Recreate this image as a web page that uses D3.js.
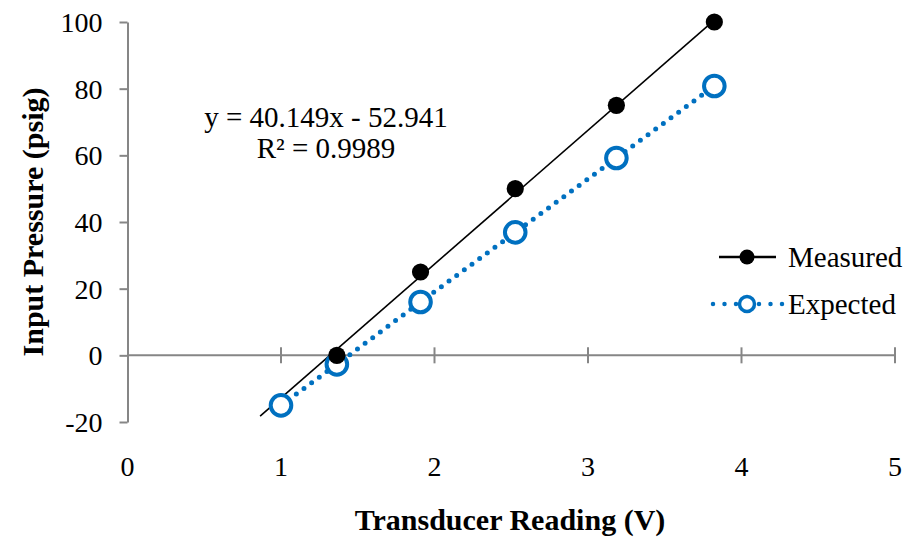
<!DOCTYPE html>
<html>
<head>
<meta charset="utf-8">
<script src="https://cdn.jsdelivr.net/npm/d3@7"></script>
<style>
  html, body { margin: 0; padding: 0; background: #fff; }
  svg { display: block; }
  svg text { font-family: "Times New Roman", "Liberation Serif", "DejaVu Serif", serif; fill: #000; }
</style>
</head>
<body>
<svg id="chart" width="911" height="539"></svg>
<script>
// Transducer calibration data
const measuredX = [1.364, 1.909, 2.526, 3.185, 3.823];
const measuredY = [0, 25, 50, 75, 100];
const expectedX = [1.0, 1.364, 1.909, 2.526, 3.185, 3.823];
const expectedY = [-15, -2.7, 16, 36.9, 59.2, 80.8];
const xTicks = [0, 1, 2, 3, 4, 5];
const yTicks = [-20, 0, 20, 40, 60, 80, 100];
const seriesNames = ["Measured", "Expected"];
// Linear trendline fitted to the measured series (with 0.5 V backward forecast)
const trendSlope = 40.149;
const trendIntercept = -52.941;
const trendRange = [0.864, 3.823];
const equationLines = ["y = 40.149x - 52.941", "R\u00B2 = 0.9989"];

const serif = "'Times New Roman', 'Liberation Serif', 'DejaVu Serif', serif";
const svg = d3.select("#chart");
const x = d3.scaleLinear().domain([0, 5]).range([127.5, 895]);
const y = d3.scaleLinear().domain([-20, 100]).range([422, 22]);
const axisColor = "#868686";
const blue = "#0070C0";

// Y axis (left), ticks outward
const yAxis = svg.append("g")
  .attr("transform", `translate(${x(0)},0)`)
  .call(d3.axisLeft(y).tickValues(yTicks).tickFormat(d => String(d))
    .tickSize(8).tickSizeOuter(0).tickPadding(17))
  .attr("font-family", serif).attr("font-size", 28);
yAxis.select(".domain").attr("stroke", axisColor).attr("stroke-width", 2);
yAxis.selectAll(".tick line").attr("stroke", axisColor).attr("stroke-width", 2);
yAxis.selectAll(".tick text").attr("fill", "#000").attr("dy", "0.34em");

// X axis line crossing at y = 0, with ticks crossing the line
const xAxis = svg.append("g").attr("transform", `translate(0,${y(0)})`);
xAxis.append("line")
  .attr("x1", x(0)).attr("x2", x(5))
  .attr("stroke", axisColor).attr("stroke-width", 2);
xAxis.selectAll("line.tick").data(xTicks.slice(1)).join("line")
  .attr("class", "tick")
  .attr("x1", d => x(d)).attr("x2", d => x(d))
  .attr("y1", -8).attr("y2", 8)
  .attr("stroke", axisColor).attr("stroke-width", 2);

// X tick labels at the bottom of the plot
svg.append("g").attr("font-family", serif).selectAll("text").data(xTicks).join("text")
  .attr("x", d => x(d)).attr("y", 476)
  .attr("text-anchor", "middle").attr("font-size", 28)
  .text(d => d);

// Axis titles
svg.append("text")
  .attr("x", 510).attr("y", 530)
  .attr("text-anchor", "middle").attr("font-size", 30).attr("font-weight", "bold")
  .text("Transducer Reading (V)");
svg.append("text")
  .attr("transform", "translate(43,222) rotate(-90)")
  .attr("text-anchor", "middle").attr("font-size", 30).attr("font-weight", "bold")
  .text("Input Pressure (psig)");

const line = d3.line().x(d => x(d[0])).y(d => y(d[1]));

// Expected series: dotted blue line with hollow markers
const expected = expectedX.map((v, i) => [v, expectedY[i]]);
svg.append("path").datum(expected)
  .attr("d", line).attr("fill", "none")
  .attr("stroke", blue).attr("stroke-width", 5)
  .attr("stroke-linecap", "round").attr("stroke-dasharray", "0 9.5");

// Trendline of measured series
svg.append("path").datum(trendRange.map(v => [v, trendSlope * v + trendIntercept]))
  .attr("d", line).attr("fill", "none")
  .attr("stroke", "#000").attr("stroke-width", 1.6);

svg.append("g").selectAll("circle").data(expected).join("circle")
  .attr("cx", d => x(d[0])).attr("cy", d => y(d[1])).attr("r", 10.3)
  .attr("fill", "#fff").attr("stroke", blue).attr("stroke-width", 4);

// Measured series markers
const measured = measuredX.map((v, i) => [v, measuredY[i]]);
svg.append("g").selectAll("circle").data(measured).join("circle")
  .attr("cx", d => x(d[0])).attr("cy", d => y(d[1])).attr("r", 8.6)
  .attr("fill", "#000");

// Trendline equation
svg.append("g").attr("font-family", serif).selectAll("text").data(equationLines).join("text")
  .attr("x", 326).attr("y", (d, i) => 127 + i * 31)
  .attr("text-anchor", "middle").attr("font-size", 29)
  .text(d => d);

// Legend
const legend = svg.append("g");
const legendY = [257, 304];
legend.append("line").attr("x1", 719).attr("x2", 776).attr("y1", legendY[0]).attr("y2", legendY[0])
  .attr("stroke", "#000").attr("stroke-width", 2.5);
legend.append("circle").attr("cx", 747).attr("cy", legendY[0]).attr("r", 7.5).attr("fill", "#000");
legend.append("line").attr("x1", 713).attr("x2", 783).attr("y1", legendY[1]).attr("y2", legendY[1])
  .attr("stroke", blue).attr("stroke-width", 4.5).attr("stroke-linecap", "round").attr("stroke-dasharray", "0 11.5");
legend.append("circle").attr("cx", 747).attr("cy", legendY[1]).attr("r", 7.5)
  .attr("fill", "#fff").attr("stroke", blue).attr("stroke-width", 3.5);
legend.selectAll("text.lbl").data(seriesNames).join("text")
  .attr("class", "lbl")
  .attr("x", 788).attr("y", (d, i) => legendY[i] + 10)
  .attr("font-size", 29)
  .text(d => d);
</script>
</body>
</html>
